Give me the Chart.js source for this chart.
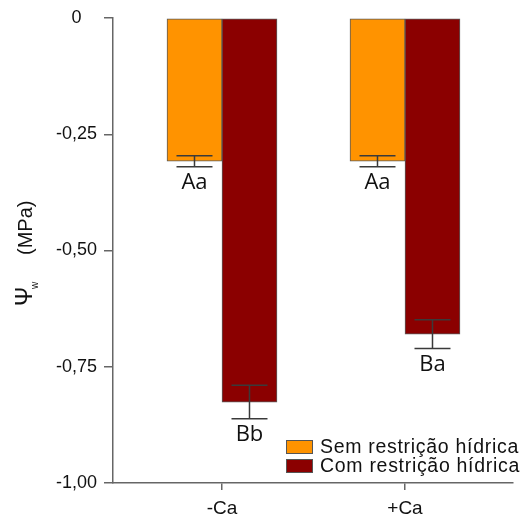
<!DOCTYPE html>
<html>
<head>
<meta charset="utf-8">
<script src="https://cdn.jsdelivr.net/npm/chart.js@4/dist/chart.umd.min.js"></script>
<style>
  html, body { margin: 0; padding: 0; background: #fff; }
  #wrap { width: 524px; height: 518px; position: relative; }
</style>
</head>
<body>
<div id="wrap"><canvas id="c" width="524" height="518"></canvas></div>
<script>
const categories = ['-Ca', '+Ca'];
const seriesNames = ['Sem restrição hídrica', 'Com restrição hídrica'];
const semValues = [-0.308, -0.308];
const semErrors = [0.012, 0.012];
const comValues = [-0.826, -0.680];
const comErrors = [0.036, 0.031];
const semLetters = ['Aa', 'Aa'];
const comLetters = ['Bb', 'Ba'];
const yTicks = [0, -0.25, -0.5, -0.75, -1];

const COLORS = ['#FF9300', '#8B0000'];
const errors = [semErrors, comErrors];
const letters = [semLetters, comLetters];

const overlay = {
  id: 'overlay',
  afterDatasetsDraw(chart) {
    const ctx = chart.ctx;
    const y = chart.scales.y;
    const area = chart.chartArea;
    // error bars + letters
    chart.data.datasets.forEach((ds, di) => {
      const meta = chart.getDatasetMeta(di);
      meta.data.forEach((bar, i) => {
        const v = ds.data[i].y;
        const e = errors[di][i];
        const yt = y.getPixelForValue(v + e);
        const yb = y.getPixelForValue(v - e);
        const x = bar.x;
        ctx.save();
        ctx.strokeStyle = '#3a3a3a';
        ctx.lineWidth = 1.5;
        ctx.beginPath();
        ctx.moveTo(x, yt); ctx.lineTo(x, yb);
        ctx.moveTo(x - 18, yt); ctx.lineTo(x + 18, yt);
        ctx.moveTo(x - 18, yb); ctx.lineTo(x + 18, yb);
        ctx.stroke();
        ctx.fillStyle = '#111';
        ctx.font = '22px "Open Sans"';
        ctx.textAlign = 'center';
        ctx.textBaseline = 'alphabetic';
        ctx.fillText(letters[di][i], x, yb + 22.5);
        ctx.restore();
      });
    });
    // legend
    ctx.save();
    const lx = area.right - 227;
    const ly = area.bottom - 43;
    seriesNames.forEach((name, i) => {
      const by = ly + i * 19;
      ctx.fillStyle = COLORS[i];
      ctx.fillRect(lx, by, 27, 14);
      ctx.strokeStyle = '#555';
      ctx.lineWidth = 1;
      ctx.strokeRect(lx + 0.5, by + 0.5, 26, 13);
      ctx.fillStyle = '#111';
      ctx.font = '19.5px "Liberation Sans", Arial, sans-serif';
      ctx.letterSpacing = '0.7px';
      ctx.textAlign = 'left';
      ctx.textBaseline = 'alphabetic';
      ctx.fillText(name, lx + 34, by + 13);
    });
    ctx.restore();
    // y axis title
    ctx.save();
    ctx.translate(32, 305);
    ctx.rotate(-Math.PI / 2);
    ctx.fillStyle = '#111';
    ctx.textAlign = 'left';
    ctx.textBaseline = 'alphabetic';
    ctx.font = '23px "Liberation Sans", Arial, sans-serif';
    ctx.fillText('Ψ', -1, 0);
    ctx.font = '10px "Liberation Sans", Arial, sans-serif';
    ctx.fillText('w', 16, 6);
    ctx.font = '20px "Liberation Sans", Arial, sans-serif';
    ctx.fillText('(MPa)', 50, 0);
    ctx.restore();
  }
};

new Chart(document.getElementById('c'), {
  type: 'bar',
  data: {
    datasets: seriesNames.map((name, di) => ({
      label: name,
      data: categories.map((c, i) => ({ x: i, y: (di === 0 ? semValues : comValues)[i] })),
      backgroundColor: COLORS[di],
      borderColor: '#5a5a5a',
      borderWidth: 1,
      borderSkipped: false,
      barThickness: 55
    }))
  },
  options: {
    responsive: false,
    animation: false,
    devicePixelRatio: 1,
    layout: { padding: { top: 18, right: 11, left: 0, bottom: 0 } },
    plugins: { legend: { display: false }, tooltip: { enabled: false } },
    scales: {
      x: {
        type: 'linear',
        min: -0.5956,
        max: 1.5902,
        offset: false,
        afterBuildTicks: s => { s.ticks = categories.map((c, i) => ({ value: i })); },
        afterFit: s => { s.height = 35; },
        ticks: {
          callback: v => categories[Math.round(v)],
          font: { size: 19, family: '"Liberation Sans", Arial, sans-serif' },
          color: '#111',
          padding: 7,
          maxRotation: 0
        },
        grid: { drawOnChartArea: false, offset: false, tickLength: 7, color: '#666', lineWidth: 1.5 },
        border: { display: true, color: '#666', width: 1.5 }
      },
      y: {
        min: -1,
        max: 0,
        afterBuildTicks: s => { s.ticks = yTicks.map(v => ({ value: v })); },
        afterFit: s => { s.width = 113; },
        ticks: {
          callback: v => v === 0 ? '0' : v.toFixed(2).replace('.', ','),
          font: { size: 18, family: '"Liberation Sans", Arial, sans-serif' },
          color: '#111',
          crossAlign: 'center',
          padding: 7
        },
        grid: { drawOnChartArea: false, tickLength: 9, color: '#666', lineWidth: 1.5 },
        border: { display: true, color: '#666', width: 1.5 }
      }
    }
  },
  plugins: [overlay]
});
</script>
</body>
</html>
